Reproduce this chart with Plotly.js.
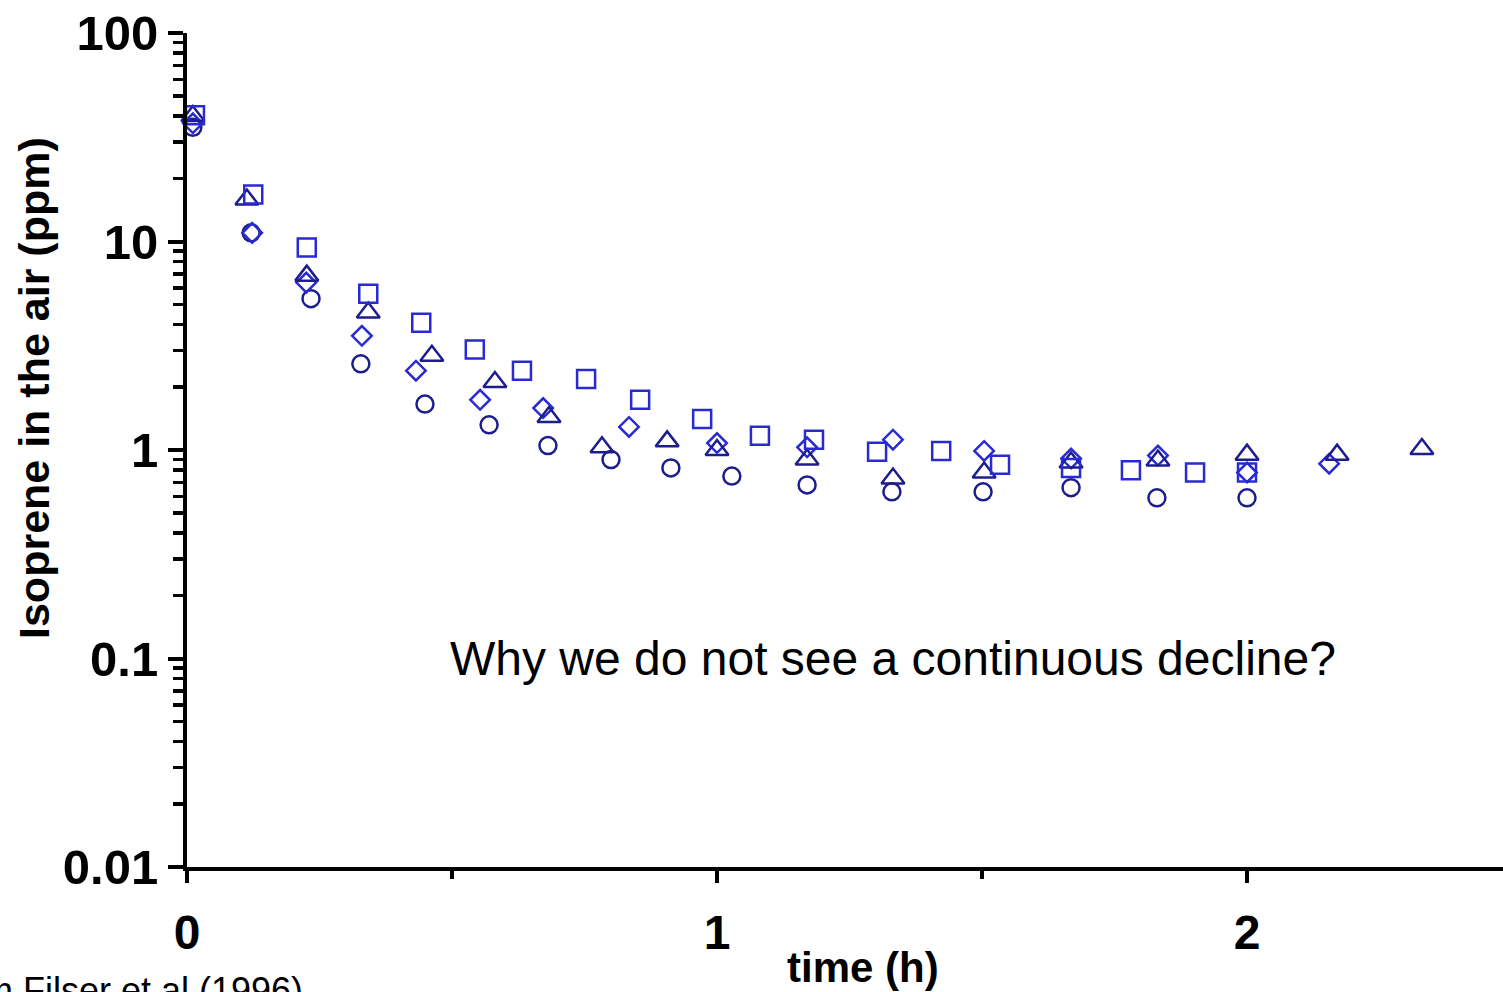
<!DOCTYPE html>
<html>
<head>
<meta charset="utf-8">
<script src="https://cdn.plot.ly/plotly-3.0.1.min.js"></script>
<style>
  html, body { margin: 0; padding: 0; background: #fff; }
  #chart { width: 1503px; height: 992px; }
</style>
</head>
<body>
<div id="chart"></div>
<script>
// Isoprene concentration in chamber air after dosing (four experiments)
const squareTime  = [0.015, 0.125, 0.226, 0.342, 0.442, 0.543, 0.632, 0.753, 0.855, 0.972, 1.081, 1.183, 1.302, 1.423, 1.534, 1.668, 1.781, 1.902, 2.0];
const squarePpm   = [40.3, 16.8, 9.36, 5.62, 4.08, 3.03, 2.40, 2.19, 1.74, 1.41, 1.17, 1.12, 0.98, 0.99, 0.85, 0.82, 0.80, 0.78, 0.78];

const triangleTime = [0.011, 0.113, 0.226, 0.342, 0.462, 0.581, 0.683, 0.783, 0.906, 1.0, 1.17, 1.332, 1.504, 1.668, 1.832, 2.0, 2.17, 2.33];
const trianglePpm  = [40.0, 15.9, 6.86, 4.56, 2.83, 2.12, 1.44, 1.03, 1.10, 1.0, 0.90, 0.73, 0.78, 0.87, 0.89, 0.95, 0.95, 1.01];

const diamondTime = [0.011, 0.123, 0.225, 0.330, 0.432, 0.553, 0.672, 0.834, 1.0, 1.17, 1.332, 1.504, 1.668, 1.832, 2.0, 2.155];
const diamondPpm  = [36.9, 11.0, 6.35, 3.53, 2.40, 1.74, 1.59, 1.29, 1.08, 1.03, 1.12, 0.99, 0.91, 0.94, 0.78, 0.86];

const circleTime = [0.011, 0.121, 0.234, 0.328, 0.449, 0.570, 0.681, 0.800, 0.913, 1.028, 1.17, 1.33, 1.502, 1.668, 1.830, 2.0];
const circlePpm  = [35.3, 11.0, 5.32, 2.59, 1.66, 1.32, 1.05, 0.90, 0.82, 0.75, 0.68, 0.63, 0.63, 0.66, 0.59, 0.59];

const yTickVals = [0.01, 0.1, 1, 10, 100];
const yTickText = ['0.01', '0.1', '1', '10', '100'];
const xTickVals = [0, 1, 2];
const xTickText = ['0', '1', '2'];

const bright = '#2a2ad2';
const navy = '#1d1d8e';
const sans = 'Liberation Sans, Arial, sans-serif';

function series(x, y, symbol, color, size) {
  return {
    type: 'scatter', mode: 'markers', x: x, y: y,
    marker: { symbol: symbol, size: size, color: color, line: { color: color, width: 2.5 } },
    hoverinfo: 'x+y', showlegend: false, cliponaxis: false
  };
}

const data = [
  series(circleTime, circlePpm, 'circle-open', navy, 17),
  series(diamondTime, diamondPpm, 'diamond-open', bright, 15),
  series(triangleTime, trianglePpm, 'triangle-up-open', navy, 20),
  series(squareTime, squarePpm, 'square-open', bright, 18)
];

// plot area in pixels: x from 187 to 1503, y from 33 to 867
const plotW = 1316, plotH = 834;
const px = (p) => (p - 187) / plotW;
const py = (p) => (867 - p) / plotH;

const layout = {
  width: 1503, height: 992,
  margin: { l: 187, r: 0, t: 33, b: 125 },
  paper_bgcolor: '#ffffff', plot_bgcolor: '#ffffff',
  font: { family: sans, color: '#000' },
  xaxis: {
    range: [0, 2.483],
    showgrid: false, zeroline: false,
    showline: true, linewidth: 4, linecolor: '#000',
    tickmode: 'array', tickvals: xTickVals, ticktext: xTickText,
    ticks: 'outside', ticklen: 12, tickwidth: 4, tickcolor: '#000',
    ticklabelstandoff: 8,
    minor: { dtick: 0.5, tick0: 0, ticks: 'outside', ticklen: 8, tickwidth: 4, tickcolor: '#000', showgrid: false },
    tickfont: { size: 48, family: sans, weight: 'bold' }
  },
  yaxis: {
    type: 'log', range: [-2, 2],
    showgrid: false, zeroline: false,
    showline: true, linewidth: 4, linecolor: '#000',
    tickmode: 'array', tickvals: yTickVals, ticktext: yTickText,
    ticks: 'outside', ticklen: 15, tickwidth: 4, tickcolor: '#000',
    minor: { dtick: 'D1', ticks: 'outside', ticklen: 10, tickwidth: 3.5, tickcolor: '#000', showgrid: false },
    tickfont: { size: 49, family: sans, weight: 'bold' }
  },
  annotations: [
    {
      xref: 'paper', yref: 'paper', x: px(34), y: py(388),
      text: '<b>Isoprene in the air (ppm)</b>', textangle: -90,
      showarrow: false, xanchor: 'center', yanchor: 'middle',
      font: { size: 43, color: '#000', family: sans }
    },
    {
      xref: 'paper', yref: 'paper', x: px(863), y: py(968),
      text: '<b>time (h)</b>',
      showarrow: false, xanchor: 'center', yanchor: 'middle',
      font: { size: 42, color: '#000', family: sans }
    },
    {
      xref: 'x', yref: 'y', x: 1.332, y: Math.log10(0.1),
      text: 'Why we do not see a continuous decline?',
      showarrow: false, xanchor: 'center', yanchor: 'middle',
      font: { size: 48, color: '#000', family: sans }
    },
    {
      xref: 'paper', yref: 'paper', x: px(305), y: py(990),
      text: 'from Filser et al (1996)',
      showarrow: false, xanchor: 'right', yanchor: 'middle',
      font: { size: 36, color: '#000', family: sans }
    }
  ]
};

Plotly.newPlot('chart', data, layout, { displayModeBar: false, staticPlot: true });
</script>
</body>
</html>
